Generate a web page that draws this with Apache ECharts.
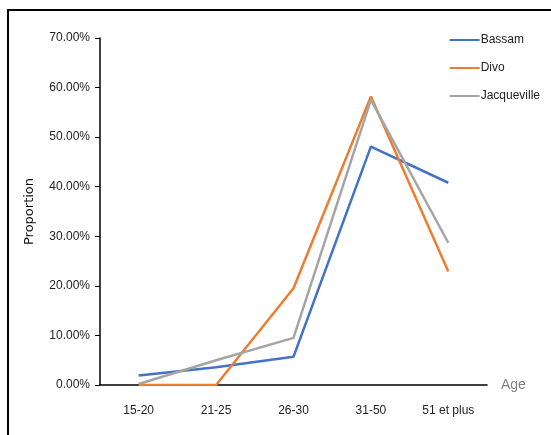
<!DOCTYPE html>
<html>
<head>
<meta charset="utf-8">
<style>
  html, body { margin: 0; padding: 0; background: #fff; }
  #chart { width: 551px; height: 435px; }
</style>
<script src="https://cdn.jsdelivr.net/npm/echarts@6/dist/echarts.min.js"></script>
</head>
<body>
<div id="chart"></div>
<script>
// Age groups and proportion (%) per locality
const ageGroups = ['15-20', '21-25', '26-30', '31-50', '51 et plus'];
const bassam = [1.9, 3.6, 5.7, 48.1, 40.8];
const divo = [0, 0, 19.5, 58.2, 22.9];
const jacqueville = [0.2, 5.0, 9.5, 57.5, 28.7];
const yTicks = [0, 10, 20, 30, 40, 50, 60, 70];

const fontFam = '"Liberation Sans Narrow", "Liberation Sans", Arial, sans-serif';

const chart = echarts.init(document.getElementById('chart'), null, { renderer: 'canvas' });

function lineSeries(name, data, color) {
  return {
    name: name,
    type: 'line',
    data: data,
    symbol: 'none',
    lineStyle: { color: color, width: 2.5 },
    itemStyle: { color: color }
  };
}

chart.setOption({
  backgroundColor: '#fff',
  animation: false,
  graphic: [{
    type: 'rect',
    shape: { x: 8, y: 10, width: 600, height: 500 },
    style: { fill: 'none', stroke: '#000', lineWidth: 2 },
    silent: true
  }],
  grid: { left: 100, right: 64, top: 38, bottom: 50 },
  legend: {
    orient: 'vertical',
    right: 6,
    top: 29,
    itemGap: 16,
    itemWidth: 30,
    itemHeight: 2,
    icon: 'rect',
    textStyle: { fontFamily: fontFam, fontSize: 12, color: '#222', padding: [0, 0, 0, -4] },
    data: ['Bassam', 'Divo', 'Jacqueville']
  },
  xAxis: {
    type: 'category',
    data: ageGroups,
    boundaryGap: true,
    name: 'Age',
    nameLocation: 'end',
    nameGap: 14,
    nameTextStyle: { fontFamily: fontFam, fontSize: 14, color: '#808080', verticalAlign: 'middle' },
    axisLine: { lineStyle: { color: '#000', width: 1.5 } },
    axisTick: { show: false },
    axisLabel: { fontFamily: fontFam, fontSize: 12, color: '#222', margin: 20 }
  },
  yAxis: {
    type: 'value',
    min: yTicks[0],
    max: yTicks[yTicks.length - 1],
    interval: 10,
    name: 'Proportion',
    nameLocation: 'middle',
    nameGap: 64,
    nameRotate: 90,
    nameTextStyle: { fontFamily: '"DejaVu Sans", sans-serif', fontSize: 13, color: '#111' },
    splitLine: { show: false },
    axisLine: { show: true, lineStyle: { color: '#000', width: 1.5 } },
    axisTick: { show: true, length: 5, lineStyle: { color: '#000' } },
    axisLabel: {
      fontFamily: fontFam, fontSize: 12, color: '#222', margin: 10,
      formatter: v => v.toFixed(2) + '%'
    }
  },
  series: [
    lineSeries('Bassam', bassam, '#4472C4'),
    lineSeries('Divo', divo, '#ED7D31'),
    lineSeries('Jacqueville', jacqueville, '#A5A5A5')
  ]
});
</script>
</body>
</html>
